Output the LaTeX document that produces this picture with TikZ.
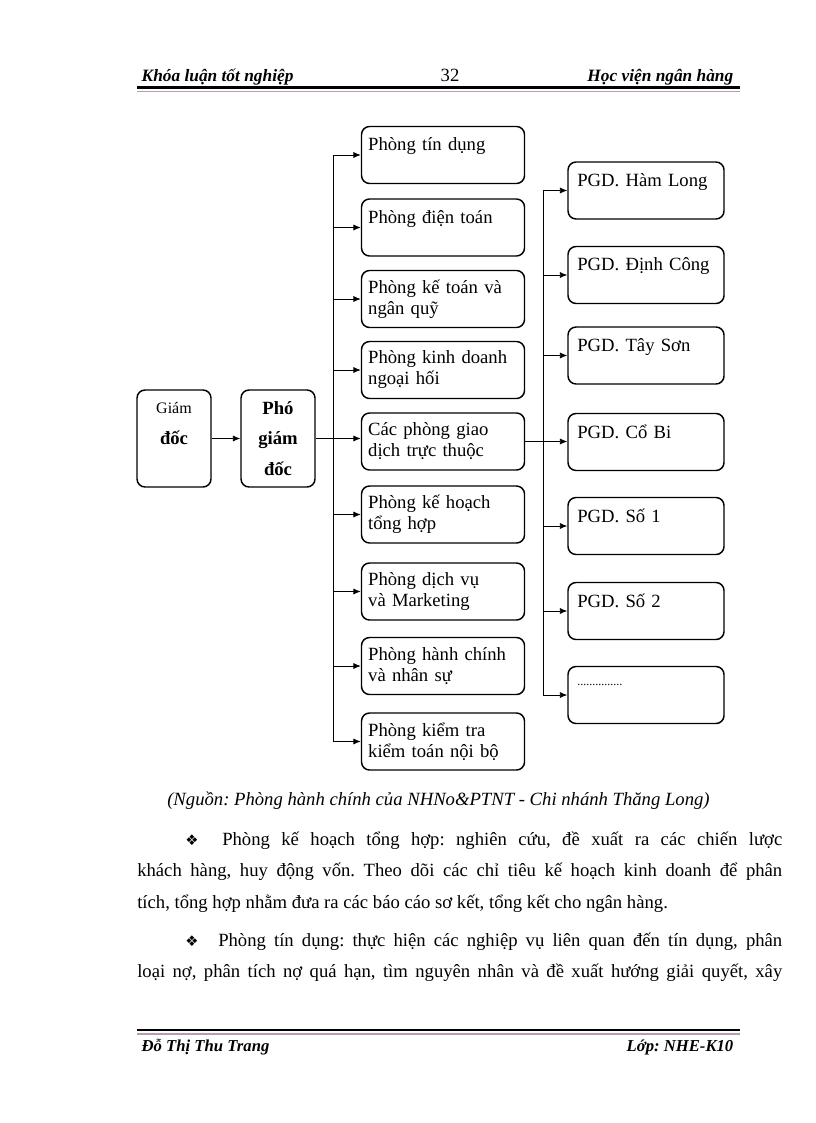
\documentclass[tikz,border=0pt]{standalone}
\usepackage{fontspec}
\setmainfont{Liberation Serif}
\newfontfamily\symfont{DejaVu Sans}
\usetikzlibrary{arrows.meta,positioning,calc}
\definecolor{rulepink}{HTML}{B89AB8}
\frenchspacing

\begin{document}
\begin{tikzpicture}[x=0.75pt,y=-0.75pt,
    every node/.style={font=\fontsize{14}{15.75}\selectfont},
    unit/.style={draw, line width=1.1pt, rounded corners=6pt, align=left,
      inner xsep=5pt, text width=112.25pt, minimum height=42.75pt},
    pgd/.style={unit, inner xsep=7pt, text width=103pt},
    boss/.style={draw, line width=1.1pt, rounded corners=6pt, align=center,
      minimum width=55.5pt, minimum height=72.75pt, font=\fontsize{14}{23}\selectfont},
    arr/.style={-{Latex[length=5.5pt,width=4.5pt]}, line width=0.6pt},
    wire/.style={line width=0.6pt},
    head/.style={font=\fontsize{13}{16}\selectfont\bfseries\itshape},
    foot/.style={font=\fontsize{12.5}{16}\selectfont\bfseries\itshape},
    body/.style={anchor=base west, inner sep=0pt}]
  \useasboundingbox[fill=white] (0,0) rectangle (816,1123);

  \node[head, anchor=base west] (hl) at (137,82) {Khóa luận tốt nghiệp};
  \node[anchor=base] (pg) at (450,82) {32};
  \node[head, anchor=base east] (hr) at (738,82) {Học viện ngân hàng};
  \draw[line width=2.2pt] (137,87.5) -- (740,87.5);
  \draw[rulepink, line width=0.8pt] (137,91.5) -- (740,91.5);

  \node[boss] (gd) at (174,438.5) {{\fontsize{12}{23}\selectfont Giám}\\\textbf{đốc}\\~};
  \node[boss, font=\fontsize{14}{23}\selectfont\bfseries] (pho) at (278,438.5) {Phó\\giám\\đốc};

  \foreach \n/\y/\t in {1/155/{Phòng tín dụng\\~}, 2/227.5/{Phòng điện toán\\~},
      3/299/{Phòng kế toán và\\ngân quỹ}, 4/370/{Phòng kinh doanh\\ngoại hối},
      5/441.5/{Các phòng giao\\dịch trực thuộc}, 6/514.5/{Phòng kế hoạch\\tổng hợp},
      7/591.5/{Phòng dịch vụ\\và Marketing}, 8/666/{Phòng hành chính\\và nhân sự},
      9/741.5/{Phòng kiểm tra\\kiểm toán nội bộ}}
    \node[unit] (u\n) at (443,\y) {\t};

  \foreach \n/\y/\t in {1/190.5/PGD. Hàm Long, 2/275/PGD. Định Công, 3/355.5/PGD. Tây Sơn,
      4/442/PGD. Cổ Bi, 5/526/PGD. Số 1, 6/611/PGD. Số 2,
      7/695/{{\fontsize{9}{9}\selectfont ...............}}}
    \node[pgd] (p\n) at (646,\y) {\t\\~};

  \coordinate (busL) at (333,155);
  \coordinate (busR) at (543,190.5);
  \draw[arr] (gd) -- (pho);
  \draw[arr] (pho.east) -- (u5.west |- pho.east);
  \draw[wire] (busL |- u1.west) -- (busL |- u9.west);
  \foreach \n in {1,2,3,4,6,7,8,9}
    \draw[arr] (busL |- u\n.west) -- (u\n.west);
  \draw[arr] (u5.east) -- (p4.west |- u5.east);
  \draw[wire] (busR |- p1.west) -- (busR |- p7.west);
  \foreach \n in {1,2,3,5,6,7}
    \draw[arr] (busR |- p\n.west) -- (p\n.west);

  \node[body, font=\fontsize{14}{16}\selectfont\itshape] (src) at (167,805)
    {(Nguồn: Phòng hành chính của NHNo\&PTNT - Chi nhánh Thăng Long)};
  \node[body] (m1) at (185,845) {{\symfont\fontsize{11}{11}\selectfont ❖}};
  \node[body] (l1) at (222,845) {\makebox[420pt][s]{Phòng kế hoạch tổng hợp: nghiên cứu, đề xuất ra các chiến lược}};
  \node[body] (l2) at (137,876) {\makebox[483.75pt][s]{khách hàng, huy động vốn. Theo dõi các chỉ tiêu kế hoạch kinh doanh để phân}};
  \node[body] (l3) at (137,908) {tích, tổng hợp nhằm đưa ra các báo cáo sơ kết, tổng kết cho ngân hàng.};
  \node[body] (m2) at (185,946) {{\symfont\fontsize{11}{11}\selectfont ❖}};
  \node[body] (l4) at (218,946) {\makebox[423pt][s]{Phòng tín dụng: thực hiện các nghiệp vụ liên quan đến tín dụng, phân}};
  \node[body] (l5) at (137,977) {\makebox[483.75pt][s]{loại nợ, phân tích nợ quá hạn, tìm nguyên nhân và đề xuất hướng giải quyết, xây}};

  \draw[line width=2.2pt] (137,1030) -- (740,1030);
  \draw[rulepink, line width=0.8pt] (137,1034) -- (740,1034);
  \node[foot, anchor=base west] (fl) at (137,1051) {Đỗ Thị Thu Trang};
  \node[foot, anchor=base east] (fr) at (738,1051) {Lớp: NHE-K10};
\end{tikzpicture}
\end{document}
